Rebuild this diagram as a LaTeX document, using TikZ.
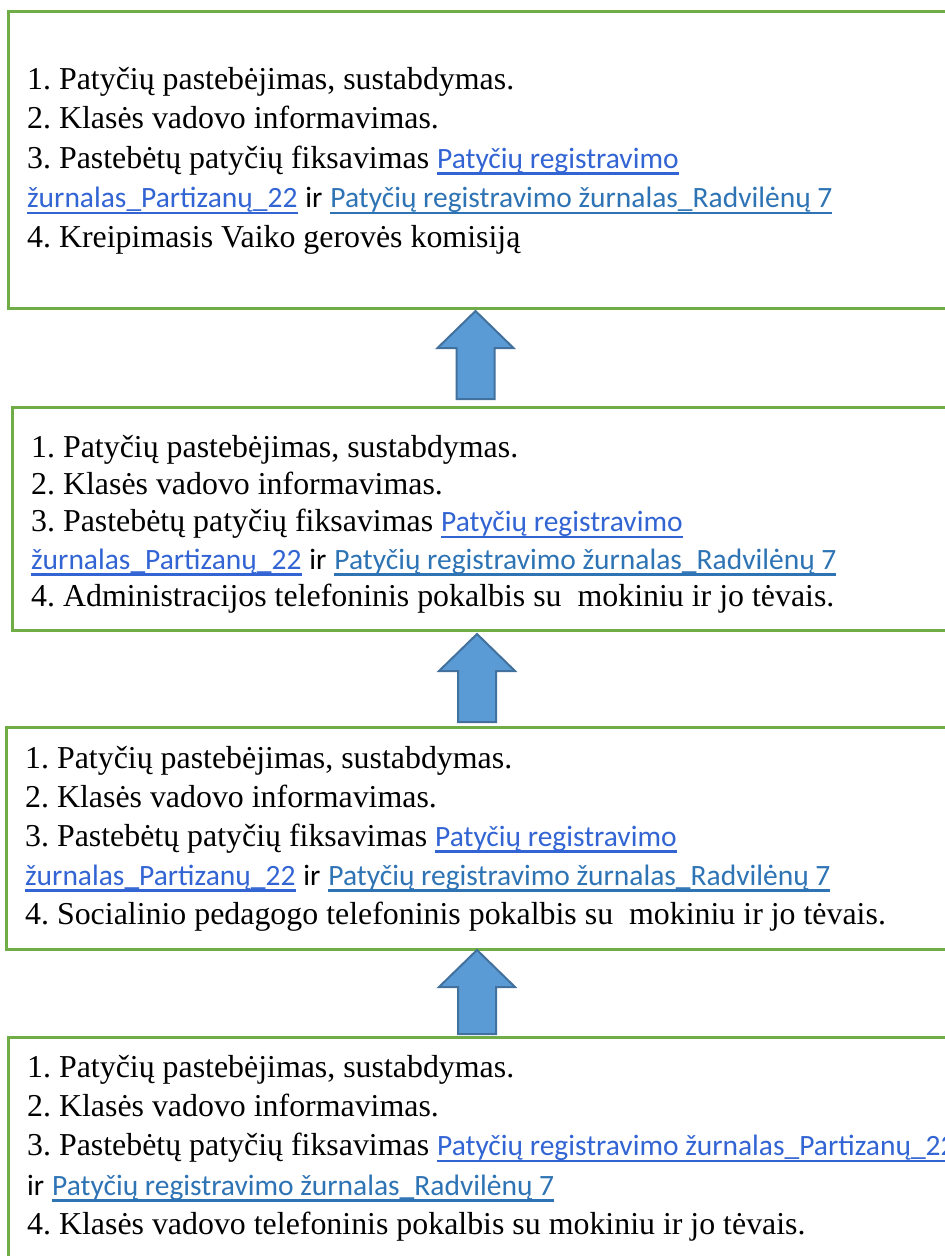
\documentclass[tikz,border=0pt]{standalone}
\usepackage{fontspec}
\setmainfont{Liberation Serif}
\newfontfamily\linkfont{Carlito}
\usetikzlibrary{calc}
\frenchspacing

\definecolor{boxgreen}{HTML}{70AD47}
\definecolor{arrowblue}{HTML}{5B9BD5}
\definecolor{arrowedge}{HTML}{41719C}
\definecolor{linka}{RGB}{50,100,212}
\definecolor{linkb}{HTML}{2E74B5}

% Link texts and the step lists
\newcommand{\linkline}[1]{\setbox0\hbox{#1}\rlap{\vrule height -4pt depth 6.5pt width \wd0}\box0}
\newcommand{\lnka}[1]{{\linkfont\fontsize{29.6}{39}\selectfont\color{linka}\linkline{#1}}}
\newcommand{\lnkb}[1]{{\linkfont\fontsize{29.6}{39}\selectfont\color{linkb}\linkline{#1}}}
\newcommand{\lnir}{{\linkfont\fontsize{29.6}{39}\selectfont ir}}
\newcommand{\steplist}[2]{{\fontsize{32}{#1}\selectfont\begin{tabular}[t]{@{}l@{}}#2\end{tabular}}}
% Block arrow: #1 base, #2 tip
\newcommand{\blockarrow}[2]{%
  \draw [uparrow] ($(#1)+(-19,0)$) -- ($(#2)+(-19,37)$) -- ($(#2)+(-38,37)$) -- (#2)
    -- ($(#2)+(38,37)$) -- ($(#2)+(19,37)$) -- ($(#1)+(19,0)$) -- cycle;}

\begin{document}
\begin{tikzpicture}[x=1bp, y=-1bp,
    stepbox/.style={draw=boxgreen, line width=3bp, minimum width=1000bp, anchor=north west, outer sep=0pt, inner sep=0pt},
    steptext/.style={anchor=base west, inner sep=0pt},
    uparrow/.style={fill=arrowblue, draw=arrowedge, line width=2bp, line join=miter}]
    \path [use as bounding box, clip] (0,0) rectangle (945,1256);
    \fill [white] (0,0) rectangle (945,1256);
    % Draw the four step boxes
    \node [stepbox, minimum height=297bp] (b1) at (8,11) {};
    \node [stepbox, minimum height=223bp] (b2) at (12,407) {};
    \node [stepbox, minimum height=222bp] (b3) at (6,727) {};
    \node [stepbox, minimum height=300bp] (b4) at (8,1037) {};
    % Draw the texts of the boxes
    \node [steptext] (t1) at (27,89) {\steplist{39.75}{%
      1. Patyčių pastebėjimas, sustabdymas.\\
      2. Klasės vadovo informavimas.\\
      3. Pastebėtų patyčių fiksavimas \lnka{Patyčių registravimo}\\
      \lnka{žurnalas\_Partizanų\_22} \lnir{} \lnkb{Patyčių registravimo žurnalas\_Radvilėnų 7}\\
      4. Kreipimasis Vaiko gerovės komisiją}};
    \node [steptext] (t2) at (31,457) {\steplist{37.5}{%
      1. Patyčių pastebėjimas, sustabdymas.\\
      2. Klasės vadovo informavimas.\\
      3. Pastebėtų patyčių fiksavimas \lnka{Patyčių registravimo}\\
      \lnka{žurnalas\_Partizanų\_22} \lnir{} \lnkb{Patyčių registravimo žurnalas\_Radvilėnų 7}\\
      4. Administracijos telefoninis pokalbis su\ \ mokiniu ir jo tėvais.}};
    \node [steptext] (t3) at (25,768) {\steplist{39.25}{%
      1. Patyčių pastebėjimas, sustabdymas.\\
      2. Klasės vadovo informavimas.\\
      3. Pastebėtų patyčių fiksavimas \lnka{Patyčių registravimo}\\
      \lnka{žurnalas\_Partizanų\_22} \lnir{} \lnkb{Patyčių registravimo žurnalas\_Radvilėnų 7}\\
      4. Socialinio pedagogo telefoninis pokalbis su\ \ mokiniu ir jo tėvais.}};
    \node [steptext] (t4) at (27,1077) {\steplist{39.5}{%
      1. Patyčių pastebėjimas, sustabdymas.\\
      2. Klasės vadovo informavimas.\\
      3. Pastebėtų patyčių fiksavimas \lnka{Patyčių registravimo žurnalas\_Partizanų\_22}\\
      \lnir{} \lnkb{Patyčių registravimo žurnalas\_Radvilėnų 7}\\
      4. Klasės vadovo telefoninis pokalbis su mokiniu ir jo tėvais.}};
    % Draw the arrows between the boxes
    \coordinate (colA) at (475.5,0);
    \coordinate (colB) at (477,0);
    \coordinate (base1) at ($(b2.north -| colA)+(0,-8)$);
    \coordinate (tip1) at ($(b1.south -| colA)+(0,3)$);
    \coordinate (base2) at ($(b3.north -| colB)+(0,-5)$);
    \coordinate (tip2) at ($(b2.south -| colB)+(0,4)$);
    \coordinate (base3) at ($(b4.north -| colB)+(0,-3)$);
    \coordinate (tip3) at ($(b3.south -| colB)+(0,1)$);
    \blockarrow{base1}{tip1}
    \blockarrow{base2}{tip2}
    \blockarrow{base3}{tip3}
\end{tikzpicture}
\end{document}
